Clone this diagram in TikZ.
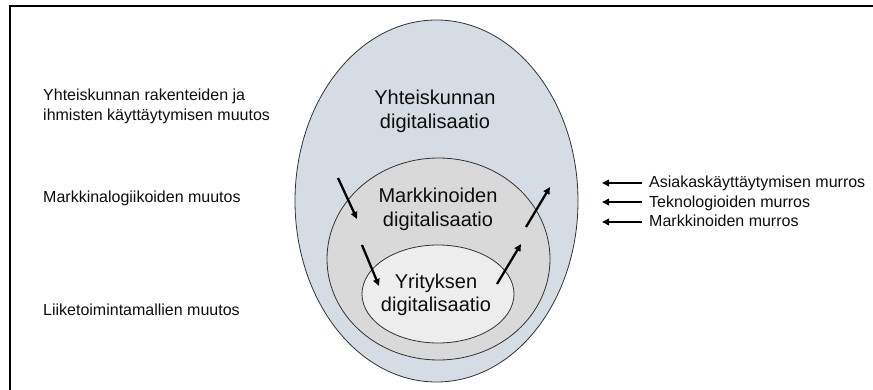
\documentclass[tikz,border=0pt]{standalone}
\usepackage{fontspec}
\setmainfont{Liberation Sans}
\usetikzlibrary{arrows.meta,shapes.geometric}
\definecolor{outerfill}{HTML}{D6DCE4}
\definecolor{midfill}{HTML}{D9D9D9}
\definecolor{innerfill}{HTML}{EDEDED}
\definecolor{txt}{HTML}{0D0D0D}
\definecolor{edge}{HTML}{333333}
\tikzset{
  ring/.style={draw=edge, line width=0.8pt, ellipse, inner sep=0pt},
  sidelabel/.style={inner sep=0pt, text=txt, font=\fontsize{16}{20}\selectfont, align=left},
  bigtext/.style={inner sep=0pt, text=txt, font=\fontsize{20}{23.5}\selectfont, align=center},
  flow/.style={line width=2.3pt, -{Triangle[length=7pt,width=6.5pt]}, black},
}
\begin{document}
\begin{tikzpicture}[x=1pt,y=-1pt]
\useasboundingbox (0,0) rectangle (873,390);
% frame (only left and top edges visible)
\coordinate (fbl) at (10,391);
\coordinate (ftl) at (10,6);
\coordinate (ftr) at (874,6);
\draw[line width=2pt, black] (fbl) -- (ftl) -- (ftr);

% ellipses
\node[ring, fill=outerfill, minimum width=283pt, minimum height=362pt] (outer) at (436.5,201) {};
\node[ring, fill=midfill, minimum width=223pt, minimum height=202pt] (mid) at (438.5,259) {};
\node[ring, fill=innerfill, minimum width=152pt, minimum height=98pt] (inner) at (438,294) {};

% ellipse labels
\node[bigtext] (tsoc) at (435,111.3) {Yhteiskunnan\\digitalisaatio};
\node[bigtext] (tmark) at (438,209.5) {Markkinoiden\\digitalisaatio};
\node[bigtext] (tcomp) at (436,295) {Yrityksen\\digitalisaatio};

% left labels
\node[sidelabel, anchor=north west] (l1) at (43,88.5) {Yhteiskunnan rakenteiden ja\\ihmisten käyttäytymisen muutos};
\node[sidelabel, anchor=base west] (l2) at (43,203) {Markkinalogiikoiden muutos};
\node[sidelabel, anchor=base west] (l3) at (43,315) {Liiketoimintamallien muutos};

% right labels
\node[sidelabel, anchor=base west] (r1) at (649,188) {Asiakaskäyttäytymisen murros};
\node[sidelabel, anchor=base west] (r2) at (649,207.5) {Teknologioiden murros};
\node[sidelabel, anchor=base west] (r3) at (649,226.5) {Markkinoiden murros};

% arrow endpoints
\coordinate (a1s) at (338,178); \coordinate (a1e) at (357,219);
\coordinate (a2s) at (362,245); \coordinate (a2e) at (379,286);
\coordinate (a3s) at (526,227); \coordinate (a3e) at (550,187);
\coordinate (a4s) at (497,284); \coordinate (a4e) at (521,244);
\coordinate (r1s) at (642,183); \coordinate (r1e) at (602,183);
\coordinate (r2s) at (642,202); \coordinate (r2e) at (602,202);
\coordinate (r3s) at (642,222); \coordinate (r3e) at (602,222);

\draw[flow] (a1s) -- (a1e);
\draw[flow] (a2s) -- (a2e);
\draw[flow] (a3s) -- (a3e);
\draw[flow] (a4s) -- (a4e);
\draw[flow] (r1s) -- (r1e);
\draw[flow] (r2s) -- (r2e);
\draw[flow] (r3s) -- (r3e);
\end{tikzpicture}
\end{document}
